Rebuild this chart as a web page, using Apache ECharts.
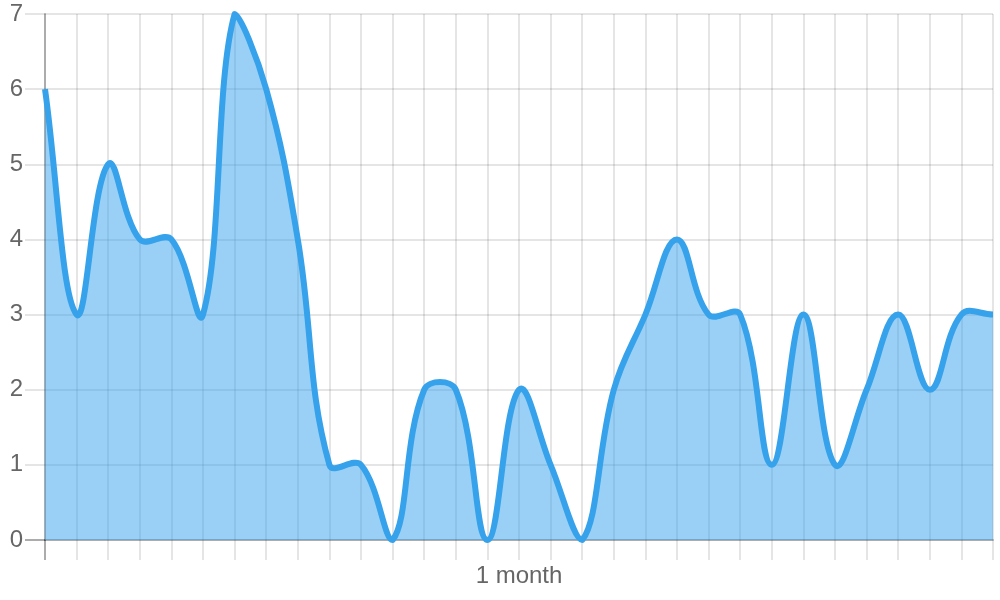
<!DOCTYPE html>
<html>
<head>
<meta charset="utf-8">
<script src="https://cdn.jsdelivr.net/npm/echarts@6/dist/echarts.min.js"></script>
<style>html,body{margin:0;padding:0;background:#fff}#c{width:1000px;height:600px}</style>
</head>
<body>
<div id="c"></div>
<script>
const xLabels = ['', '', '', '', '', '', '', '', '', '', '', '', '', '', '', '1 month', '', '', '', '', '', '', '', '', '', '', '', '', '', '', ''];
const values = [6, 3, 5, 4, 4, 3, 7, 6, 4, 1, 1, 0, 2, 2, 0, 2, 1, 0, 2, 3, 4, 3, 3, 1, 3, 1, 2, 3, 2, 3, 3];
const yTicks = [0, 1, 2, 3, 4, 5, 6, 7];

const font = 'Liberation Sans, Arial, Helvetica, sans-serif';
const TENSION = 0.4;
const gridColor = 'rgba(0,0,0,0.1)';
const zeroColor = 'rgba(0,0,0,0.25)';

function renderCurve(params, api) {
  if (params.dataIndex !== 0) return null;
  const cs = params.coordSys;
  const left = cs.x, right = cs.x + cs.width, top = cs.y, bottom = cs.y + cs.height;
  const pts = values.map((v, i) => {
    const p = api.coord([i, v]);
    return {x: p[0], y: p[1]};
  });
  const cap = (p) => ({
    x: Math.min(Math.max(p.x, left), right),
    y: Math.min(Math.max(p.y, top), bottom)
  });
  const cps = pts.map((cur, i) => {
    const prev = i > 0 ? pts[i - 1] : cur;
    const next = i < pts.length - 1 ? pts[i + 1] : cur;
    const d01 = Math.hypot(cur.x - prev.x, cur.y - prev.y);
    const d12 = Math.hypot(next.x - cur.x, next.y - cur.y);
    let s01 = d01 / (d01 + d12), s12 = d12 / (d01 + d12);
    if (isNaN(s01)) s01 = 0;
    if (isNaN(s12)) s12 = 0;
    const fa = TENSION * s01, fb = TENSION * s12;
    return {
      prev: cap({x: cur.x - fa * (next.x - prev.x), y: cur.y - fa * (next.y - prev.y)}),
      next: cap({x: cur.x + fb * (next.x - prev.x), y: cur.y + fb * (next.y - prev.y)})
    };
  });
  let d = 'M' + pts[0].x + ' ' + pts[0].y;
  for (let i = 1; i < pts.length; i++) {
    const a = cps[i - 1].next, b = cps[i].prev, p = pts[i];
    d += ' C' + a.x + ' ' + a.y + ' ' + b.x + ' ' + b.y + ' ' + p.x + ' ' + p.y;
  }
  const base = api.coord([0, yTicks[0]])[1];
  const areaD = d + ' L' + pts[pts.length - 1].x + ' ' + base + ' L' + pts[0].x + ' ' + base + ' Z';
  const origin = api.coord([0, yTicks[0]]);
  return {
    type: 'group',
    children: [
      {type: 'path', shape: {pathData: areaD}, style: {fill: 'rgba(54,162,235,0.5)', stroke: null}, z2: 1},
      {type: 'line', shape: {x1: origin[0], y1: origin[1], x2: origin[0], y2: origin[1] + 20}, style: {stroke: zeroColor, lineWidth: 2}, z2: 2},
      {type: 'line', shape: {x1: origin[0] - 20, y1: origin[1], x2: origin[0], y2: origin[1]}, style: {stroke: zeroColor, lineWidth: 2}, z2: 2},
      {type: 'path', shape: {pathData: d}, style: {fill: null, stroke: 'rgb(54,162,235)', lineWidth: 6, lineJoin: 'round'}, z2: 3}
    ]
  };
}

const chart = echarts.init(document.getElementById('c'), null, {renderer: 'canvas'});
chart.setOption({
  animation: false,
  grid: {left: 45, right: 7, top: 14, bottom: 60, containLabel: false},
  xAxis: {
    type: 'category',
    data: xLabels,
    boundaryGap: false,
    axisLine: {show: true, lineStyle: {color: zeroColor, width: 2}},
    axisTick: {show: true, length: 20, interval: 0, lineStyle: {color: gridColor, width: 2}},
    axisLabel: {show: true, interval: 0, margin: 24, color: '#666', fontSize: 24, fontFamily: font},
    splitLine: {show: true, interval: 0, lineStyle: {color: gridColor, width: 2}}
  },
  yAxis: {
    type: 'value',
    min: yTicks[0],
    max: yTicks[yTicks.length - 1],
    interval: 1,
    axisLine: {show: true, lineStyle: {color: zeroColor, width: 2}},
    axisTick: {show: true, length: 20, lineStyle: {color: gridColor, width: 2}},
    axisLabel: {margin: 22, color: '#666', fontSize: 24, fontFamily: font},
    splitLine: {show: true, lineStyle: {color: gridColor, width: 2}}
  },
  series: [{
    type: 'custom',
    coordinateSystem: 'cartesian2d',
    clip: false,
    data: values.map((v, i) => [i, v]),
    encode: {x: 0, y: 1},
    renderItem: renderCurve
  }]
});
</script>
</body>
</html>
